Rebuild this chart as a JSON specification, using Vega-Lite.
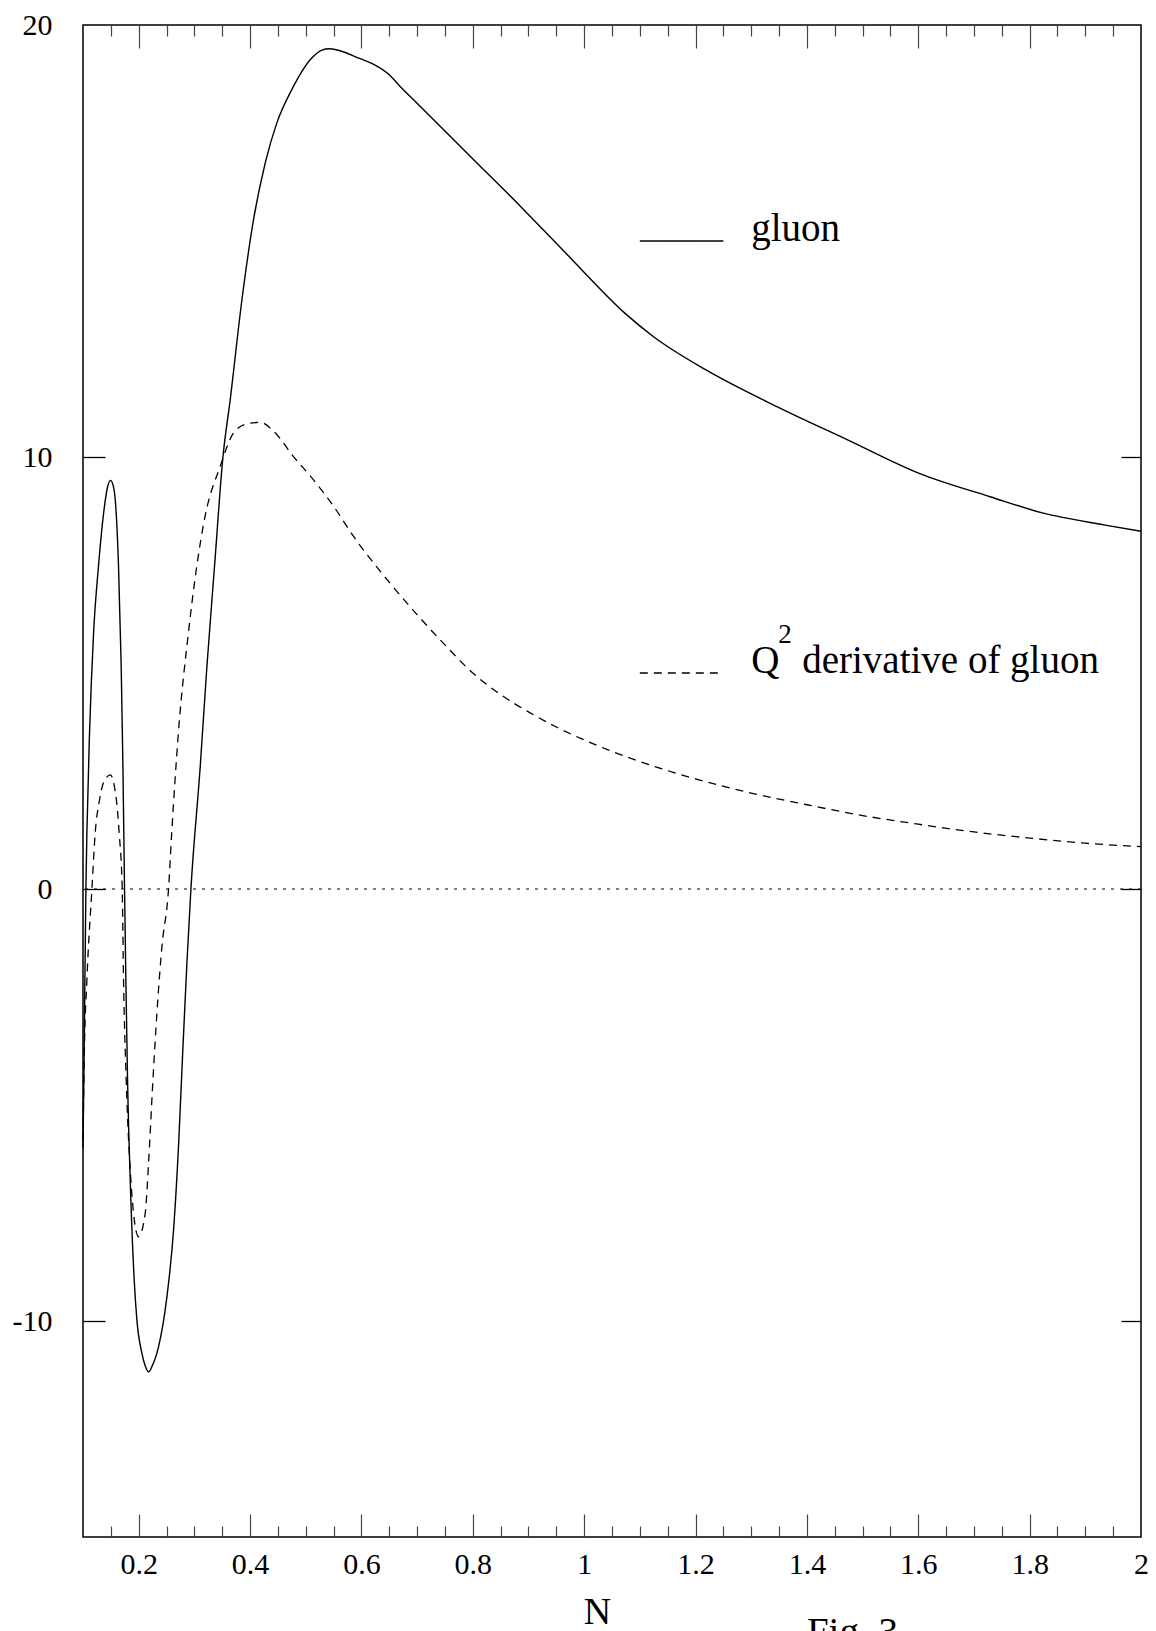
{
  "$schema": "https://vega.github.io/schema/vega-lite/v6.json",
  "width": 1058,
  "height": 1512,
  "autosize": {"type": "none"},
  "padding": {"left": 83, "top": 25, "right": 15, "bottom": 94},
  "background": "white",
  "config": {"view": {"stroke": "black", "strokeWidth": 1.5}, "font": "Liberation Serif"},
  "resolve": {"axis": {"x": "independent", "y": "independent"}},
  "datasets": {
    "curves": [
      {"N": 0.1, "v": -6.0, "s": "gluon"},
      {"N": 0.1022, "v": -3.6, "s": "gluon"},
      {"N": 0.1052, "v": 0.0, "s": "gluon"},
      {"N": 0.107, "v": 1.3, "s": "gluon"},
      {"N": 0.1117, "v": 3.6, "s": "gluon"},
      {"N": 0.1189, "v": 5.9, "s": "gluon"},
      {"N": 0.128, "v": 7.5, "s": "gluon"},
      {"N": 0.137, "v": 8.7, "s": "gluon"},
      {"N": 0.144, "v": 9.3, "s": "gluon"},
      {"N": 0.1494, "v": 9.46, "s": "gluon"},
      {"N": 0.154, "v": 9.35, "s": "gluon"},
      {"N": 0.158, "v": 9.0, "s": "gluon"},
      {"N": 0.1638, "v": 7.47, "s": "gluon"},
      {"N": 0.1686, "v": 5.15, "s": "gluon"},
      {"N": 0.1717, "v": 2.83, "s": "gluon"},
      {"N": 0.1746, "v": 0.0, "s": "gluon"},
      {"N": 0.177, "v": -2.11, "s": "gluon"},
      {"N": 0.18, "v": -4.42, "s": "gluon"},
      {"N": 0.1848, "v": -6.74, "s": "gluon"},
      {"N": 0.192, "v": -9.06, "s": "gluon"},
      {"N": 0.1968, "v": -9.98, "s": "gluon"},
      {"N": 0.2058, "v": -10.75, "s": "gluon"},
      {"N": 0.212, "v": -11.05, "s": "gluon"},
      {"N": 0.2177, "v": -11.18, "s": "gluon"},
      {"N": 0.224, "v": -11.05, "s": "gluon"},
      {"N": 0.2356, "v": -10.6, "s": "gluon"},
      {"N": 0.2507, "v": -9.44, "s": "gluon"},
      {"N": 0.2626, "v": -7.9, "s": "gluon"},
      {"N": 0.2715, "v": -5.97, "s": "gluon"},
      {"N": 0.2795, "v": -3.65, "s": "gluon"},
      {"N": 0.2866, "v": -1.72, "s": "gluon"},
      {"N": 0.2938, "v": 0.0, "s": "gluon"},
      {"N": 0.3105, "v": 2.83, "s": "gluon"},
      {"N": 0.3225, "v": 5.15, "s": "gluon"},
      {"N": 0.3362, "v": 7.47, "s": "gluon"},
      {"N": 0.3513, "v": 10.0, "s": "gluon"},
      {"N": 0.3644, "v": 11.33, "s": "gluon"},
      {"N": 0.3854, "v": 13.64, "s": "gluon"},
      {"N": 0.4063, "v": 15.5, "s": "gluon"},
      {"N": 0.4273, "v": 16.81, "s": "gluon"},
      {"N": 0.4483, "v": 17.74, "s": "gluon"},
      {"N": 0.4752, "v": 18.51, "s": "gluon"},
      {"N": 0.5112, "v": 19.24, "s": "gluon"},
      {"N": 0.5291, "v": 19.42, "s": "gluon"},
      {"N": 0.5428, "v": 19.45, "s": "gluon"},
      {"N": 0.598, "v": 19.22, "s": "gluon"},
      {"N": 0.622, "v": 19.09, "s": "gluon"},
      {"N": 0.649, "v": 18.86, "s": "gluon"},
      {"N": 0.67, "v": 18.57, "s": "gluon"},
      {"N": 0.699, "v": 18.2, "s": "gluon"},
      {"N": 0.8016, "v": 16.88, "s": "gluon"},
      {"N": 0.8858, "v": 15.8, "s": "gluon"},
      {"N": 0.95, "v": 14.95, "s": "gluon"},
      {"N": 0.998, "v": 14.3, "s": "gluon"},
      {"N": 1.073, "v": 13.33, "s": "gluon"},
      {"N": 1.124, "v": 12.79, "s": "gluon"},
      {"N": 1.2196, "v": 12.01, "s": "gluon"},
      {"N": 1.347, "v": 11.16, "s": "gluon"},
      {"N": 1.474, "v": 10.39, "s": "gluon"},
      {"N": 1.6016, "v": 9.62, "s": "gluon"},
      {"N": 1.729, "v": 9.08, "s": "gluon"},
      {"N": 1.8247, "v": 8.7, "s": "gluon"},
      {"N": 1.9328, "v": 8.43, "s": "gluon"},
      {"N": 2.0, "v": 8.28, "s": "gluon"},
      {"N": 0.1, "v": -5.8, "s": "dQ2"},
      {"N": 0.1027, "v": -3.6, "s": "dQ2"},
      {"N": 0.107, "v": -2.1, "s": "dQ2"},
      {"N": 0.116, "v": 0.0, "s": "dQ2"},
      {"N": 0.1219, "v": 1.29, "s": "dQ2"},
      {"N": 0.1296, "v": 2.06, "s": "dQ2"},
      {"N": 0.138, "v": 2.5, "s": "dQ2"},
      {"N": 0.1494, "v": 2.64, "s": "dQ2"},
      {"N": 0.156, "v": 2.4, "s": "dQ2"},
      {"N": 0.16, "v": 2.06, "s": "dQ2"},
      {"N": 0.165, "v": 1.29, "s": "dQ2"},
      {"N": 0.1704, "v": 0.0, "s": "dQ2"},
      {"N": 0.1728, "v": -2.11, "s": "dQ2"},
      {"N": 0.1776, "v": -4.42, "s": "dQ2"},
      {"N": 0.186, "v": -6.74, "s": "dQ2"},
      {"N": 0.1908, "v": -7.51, "s": "dQ2"},
      {"N": 0.1997, "v": -8.05, "s": "dQ2"},
      {"N": 0.2117, "v": -7.51, "s": "dQ2"},
      {"N": 0.2177, "v": -6.35, "s": "dQ2"},
      {"N": 0.2256, "v": -4.42, "s": "dQ2"},
      {"N": 0.2327, "v": -2.88, "s": "dQ2"},
      {"N": 0.2417, "v": -1.34, "s": "dQ2"},
      {"N": 0.2536, "v": 0.0, "s": "dQ2"},
      {"N": 0.2593, "v": 1.29, "s": "dQ2"},
      {"N": 0.2712, "v": 3.6, "s": "dQ2"},
      {"N": 0.2892, "v": 5.92, "s": "dQ2"},
      {"N": 0.3042, "v": 7.46, "s": "dQ2"},
      {"N": 0.3191, "v": 8.62, "s": "dQ2"},
      {"N": 0.3463, "v": 9.78, "s": "dQ2"},
      {"N": 0.3701, "v": 10.55, "s": "dQ2"},
      {"N": 0.395, "v": 10.77, "s": "dQ2"},
      {"N": 0.4183, "v": 10.8, "s": "dQ2"},
      {"N": 0.4422, "v": 10.6, "s": "dQ2"},
      {"N": 0.478, "v": 10.01, "s": "dQ2"},
      {"N": 0.514, "v": 9.47, "s": "dQ2"},
      {"N": 0.55, "v": 8.86, "s": "dQ2"},
      {"N": 0.586, "v": 8.16, "s": "dQ2"},
      {"N": 0.65, "v": 7.1, "s": "dQ2"},
      {"N": 0.7, "v": 6.35, "s": "dQ2"},
      {"N": 0.75, "v": 5.65, "s": "dQ2"},
      {"N": 0.8, "v": 5.0, "s": "dQ2"},
      {"N": 0.85, "v": 4.5, "s": "dQ2"},
      {"N": 0.9, "v": 4.1, "s": "dQ2"},
      {"N": 0.95, "v": 3.75, "s": "dQ2"},
      {"N": 1.0, "v": 3.45, "s": "dQ2"},
      {"N": 1.1, "v": 2.95, "s": "dQ2"},
      {"N": 1.2, "v": 2.55, "s": "dQ2"},
      {"N": 1.3, "v": 2.22, "s": "dQ2"},
      {"N": 1.4, "v": 1.95, "s": "dQ2"},
      {"N": 1.5, "v": 1.7, "s": "dQ2"},
      {"N": 1.6, "v": 1.5, "s": "dQ2"},
      {"N": 1.7, "v": 1.32, "s": "dQ2"},
      {"N": 1.8, "v": 1.18, "s": "dQ2"},
      {"N": 1.9, "v": 1.06, "s": "dQ2"},
      {"N": 2.0, "v": 0.98, "s": "dQ2"}
    ],
    "legend": [
      {"x": 1.1, "x2": 1.25, "y": 15, "s": "gluon"},
      {"x": 1.1, "x2": 1.25, "y": 5, "s": "dQ2"}
    ],
    "notes": [
      {"x": 1.3, "y": 15, "text": "gluon", "part": "main"},
      {"x": 1.3, "y": 5, "text": "Q", "part": "main"},
      {"x": 1.3, "y": 5, "text": "2", "part": "sup"},
      {"x": 1.3, "y": 5, "text": "derivative of gluon", "part": "after"},
      {"x": 1.4, "y": -17.5, "text": "Fig. 3", "part": "main"}
    ]
  },
  "layer": [
    {
      "data": {"values": [{}]},
      "mark": {"type": "rule", "color": "black", "strokeWidth": 1.2, "strokeDash": [3, 6]},
      "encoding": {
        "y": {"datum": 0, "type": "quantitative", "scale": {"domain": [-15, 20], "nice": false, "zero": false}, "axis": null}
      }
    },
    {
      "data": {"name": "curves"},
      "transform": [{"filter": "datum.s === 'gluon'"}],
      "mark": {"type": "line", "color": "black", "strokeWidth": 1.4, "interpolate": "monotone"},
      "encoding": {
        "x": {"field": "N", "type": "quantitative", "scale": {"domain": [0.1, 2], "nice": false, "zero": false},
          "axis": {"orient": "bottom", "values": [0.2, 0.4, 0.6, 0.8, 1, 1.2, 1.4, 1.6, 1.8, 2], "ticks": false, "domain": false, "grid": false,
            "labelExpr": "'' + datum.value", "labelFont": "Liberation Serif", "labelFontSize": 30, "labelColor": "black",
            "labelPadding": 36, "labelBaseline": "alphabetic", "labelFlush": false, "labelOverlap": false,
            "title": "N", "titleFont": "Liberation Serif", "titleFontSize": 38, "titleFontWeight": "normal", "titleColor": "black",
            "titleX": 514, "titleY": 86, "titleAlign": "center", "titleBaseline": "alphabetic"}},
        "y": {"field": "v", "type": "quantitative", "scale": {"domain": [-15, 20], "nice": false, "zero": false},
          "axis": {"orient": "left", "values": [-10, 0, 10, 20], "ticks": false, "domain": false, "grid": false,
            "labelExpr": "'' + datum.value", "labelFont": "Liberation Serif", "labelFontSize": 30, "labelColor": "black",
            "labelPadding": 31, "labelBaseline": "middle", "labelFlush": false, "labelOverlap": false, "title": null}}
      }
    },
    {
      "data": {"name": "curves"},
      "transform": [{"filter": "datum.s === 'dQ2'"}],
      "mark": {"type": "line", "color": "black", "strokeWidth": 1.3, "strokeDash": [8, 6], "interpolate": "monotone"},
      "encoding": {
        "x": {"field": "N", "type": "quantitative", "scale": {"domain": [0.1, 2], "nice": false, "zero": false},
          "axis": {"orient": "bottom", "values": [0.15, 0.2, 0.25, 0.3, 0.35, 0.4, 0.45, 0.5, 0.55, 0.6, 0.65, 0.7, 0.75, 0.8, 0.85, 0.9, 0.95, 1, 1.05, 1.1, 1.15, 1.2, 1.25, 1.3, 1.35, 1.4, 1.45, 1.5, 1.55, 1.6, 1.65, 1.7, 1.75, 1.8, 1.85, 1.9, 1.95],
            "labels": false, "domain": false, "grid": false, "title": null, "tickColor": "#444", "tickWidth": 1.2,
            "tickSize": {"condition": {"test": "abs(datum.value * 5 - round(datum.value * 5)) < 0.001", "value": -23}, "value": -11}}},
        "y": {"field": "v", "type": "quantitative", "scale": {"domain": [-15, 20], "nice": false, "zero": false},
          "axis": {"orient": "left", "values": [-10, 0, 10], "labels": false, "domain": false, "grid": false, "title": null,
            "tickSize": -22, "tickColor": "black", "tickWidth": 1.3}}
      }
    },
    {
      "data": {"name": "legend"},
      "mark": {"type": "rule", "color": "black", "strokeWidth": 1.4},
      "encoding": {
        "x": {"field": "x", "type": "quantitative", "scale": {"domain": [0.1, 2], "nice": false, "zero": false},
          "axis": {"orient": "top", "values": [0.15, 0.2, 0.25, 0.3, 0.35, 0.4, 0.45, 0.5, 0.55, 0.6, 0.65, 0.7, 0.75, 0.8, 0.85, 0.9, 0.95, 1, 1.05, 1.1, 1.15, 1.2, 1.25, 1.3, 1.35, 1.4, 1.45, 1.5, 1.55, 1.6, 1.65, 1.7, 1.75, 1.8, 1.85, 1.9, 1.95],
            "labels": false, "domain": false, "grid": false, "title": null, "tickColor": "#444", "tickWidth": 1.2,
            "tickSize": {"condition": {"test": "abs(datum.value * 5 - round(datum.value * 5)) < 0.001", "value": -23}, "value": -11}}},
        "x2": {"field": "x2"},
        "y": {"field": "y", "type": "quantitative", "scale": {"domain": [-15, 20], "nice": false, "zero": false},
          "axis": {"orient": "right", "values": [-10, 0, 10], "labels": false, "domain": false, "grid": false, "title": null,
            "tickSize": -20, "tickColor": "black", "tickWidth": 1.3}},
        "strokeDash": {"field": "s", "type": "nominal", "scale": {"domain": ["gluon", "dQ2"], "range": [[1, 0], [8, 6]]}, "legend": null}
      }
    },
    {
      "data": {"name": "notes"},
      "transform": [{"filter": "datum.part === 'main'"}],
      "mark": {"type": "text", "align": "left", "baseline": "alphabetic", "font": "Liberation Serif", "fontSize": 39, "color": "black"},
      "encoding": {
        "x": {"field": "x", "type": "quantitative", "scale": {"domain": [0.1, 2], "nice": false, "zero": false}, "axis": null},
        "y": {"field": "y", "type": "quantitative", "scale": {"domain": [-15, 20], "nice": false, "zero": false}, "axis": null},
        "text": {"field": "text", "type": "nominal"}
      }
    },
    {
      "data": {"name": "notes"},
      "transform": [{"filter": "datum.part === 'sup'"}],
      "mark": {"type": "text", "align": "left", "baseline": "alphabetic", "font": "Liberation Serif", "fontSize": 27, "color": "black", "dx": 27, "dy": -30},
      "encoding": {
        "x": {"field": "x", "type": "quantitative", "scale": {"domain": [0.1, 2], "nice": false, "zero": false}, "axis": null},
        "y": {"field": "y", "type": "quantitative", "scale": {"domain": [-15, 20], "nice": false, "zero": false}, "axis": null},
        "text": {"field": "text", "type": "nominal"}
      }
    },
    {
      "data": {"name": "notes"},
      "transform": [{"filter": "datum.part === 'after'"}],
      "mark": {"type": "text", "align": "left", "baseline": "alphabetic", "font": "Liberation Serif", "fontSize": 39, "color": "black", "dx": 51},
      "encoding": {
        "x": {"field": "x", "type": "quantitative", "scale": {"domain": [0.1, 2], "nice": false, "zero": false}, "axis": null},
        "y": {"field": "y", "type": "quantitative", "scale": {"domain": [-15, 20], "nice": false, "zero": false}, "axis": null},
        "text": {"field": "text", "type": "nominal"}
      }
    }
  ]
}
